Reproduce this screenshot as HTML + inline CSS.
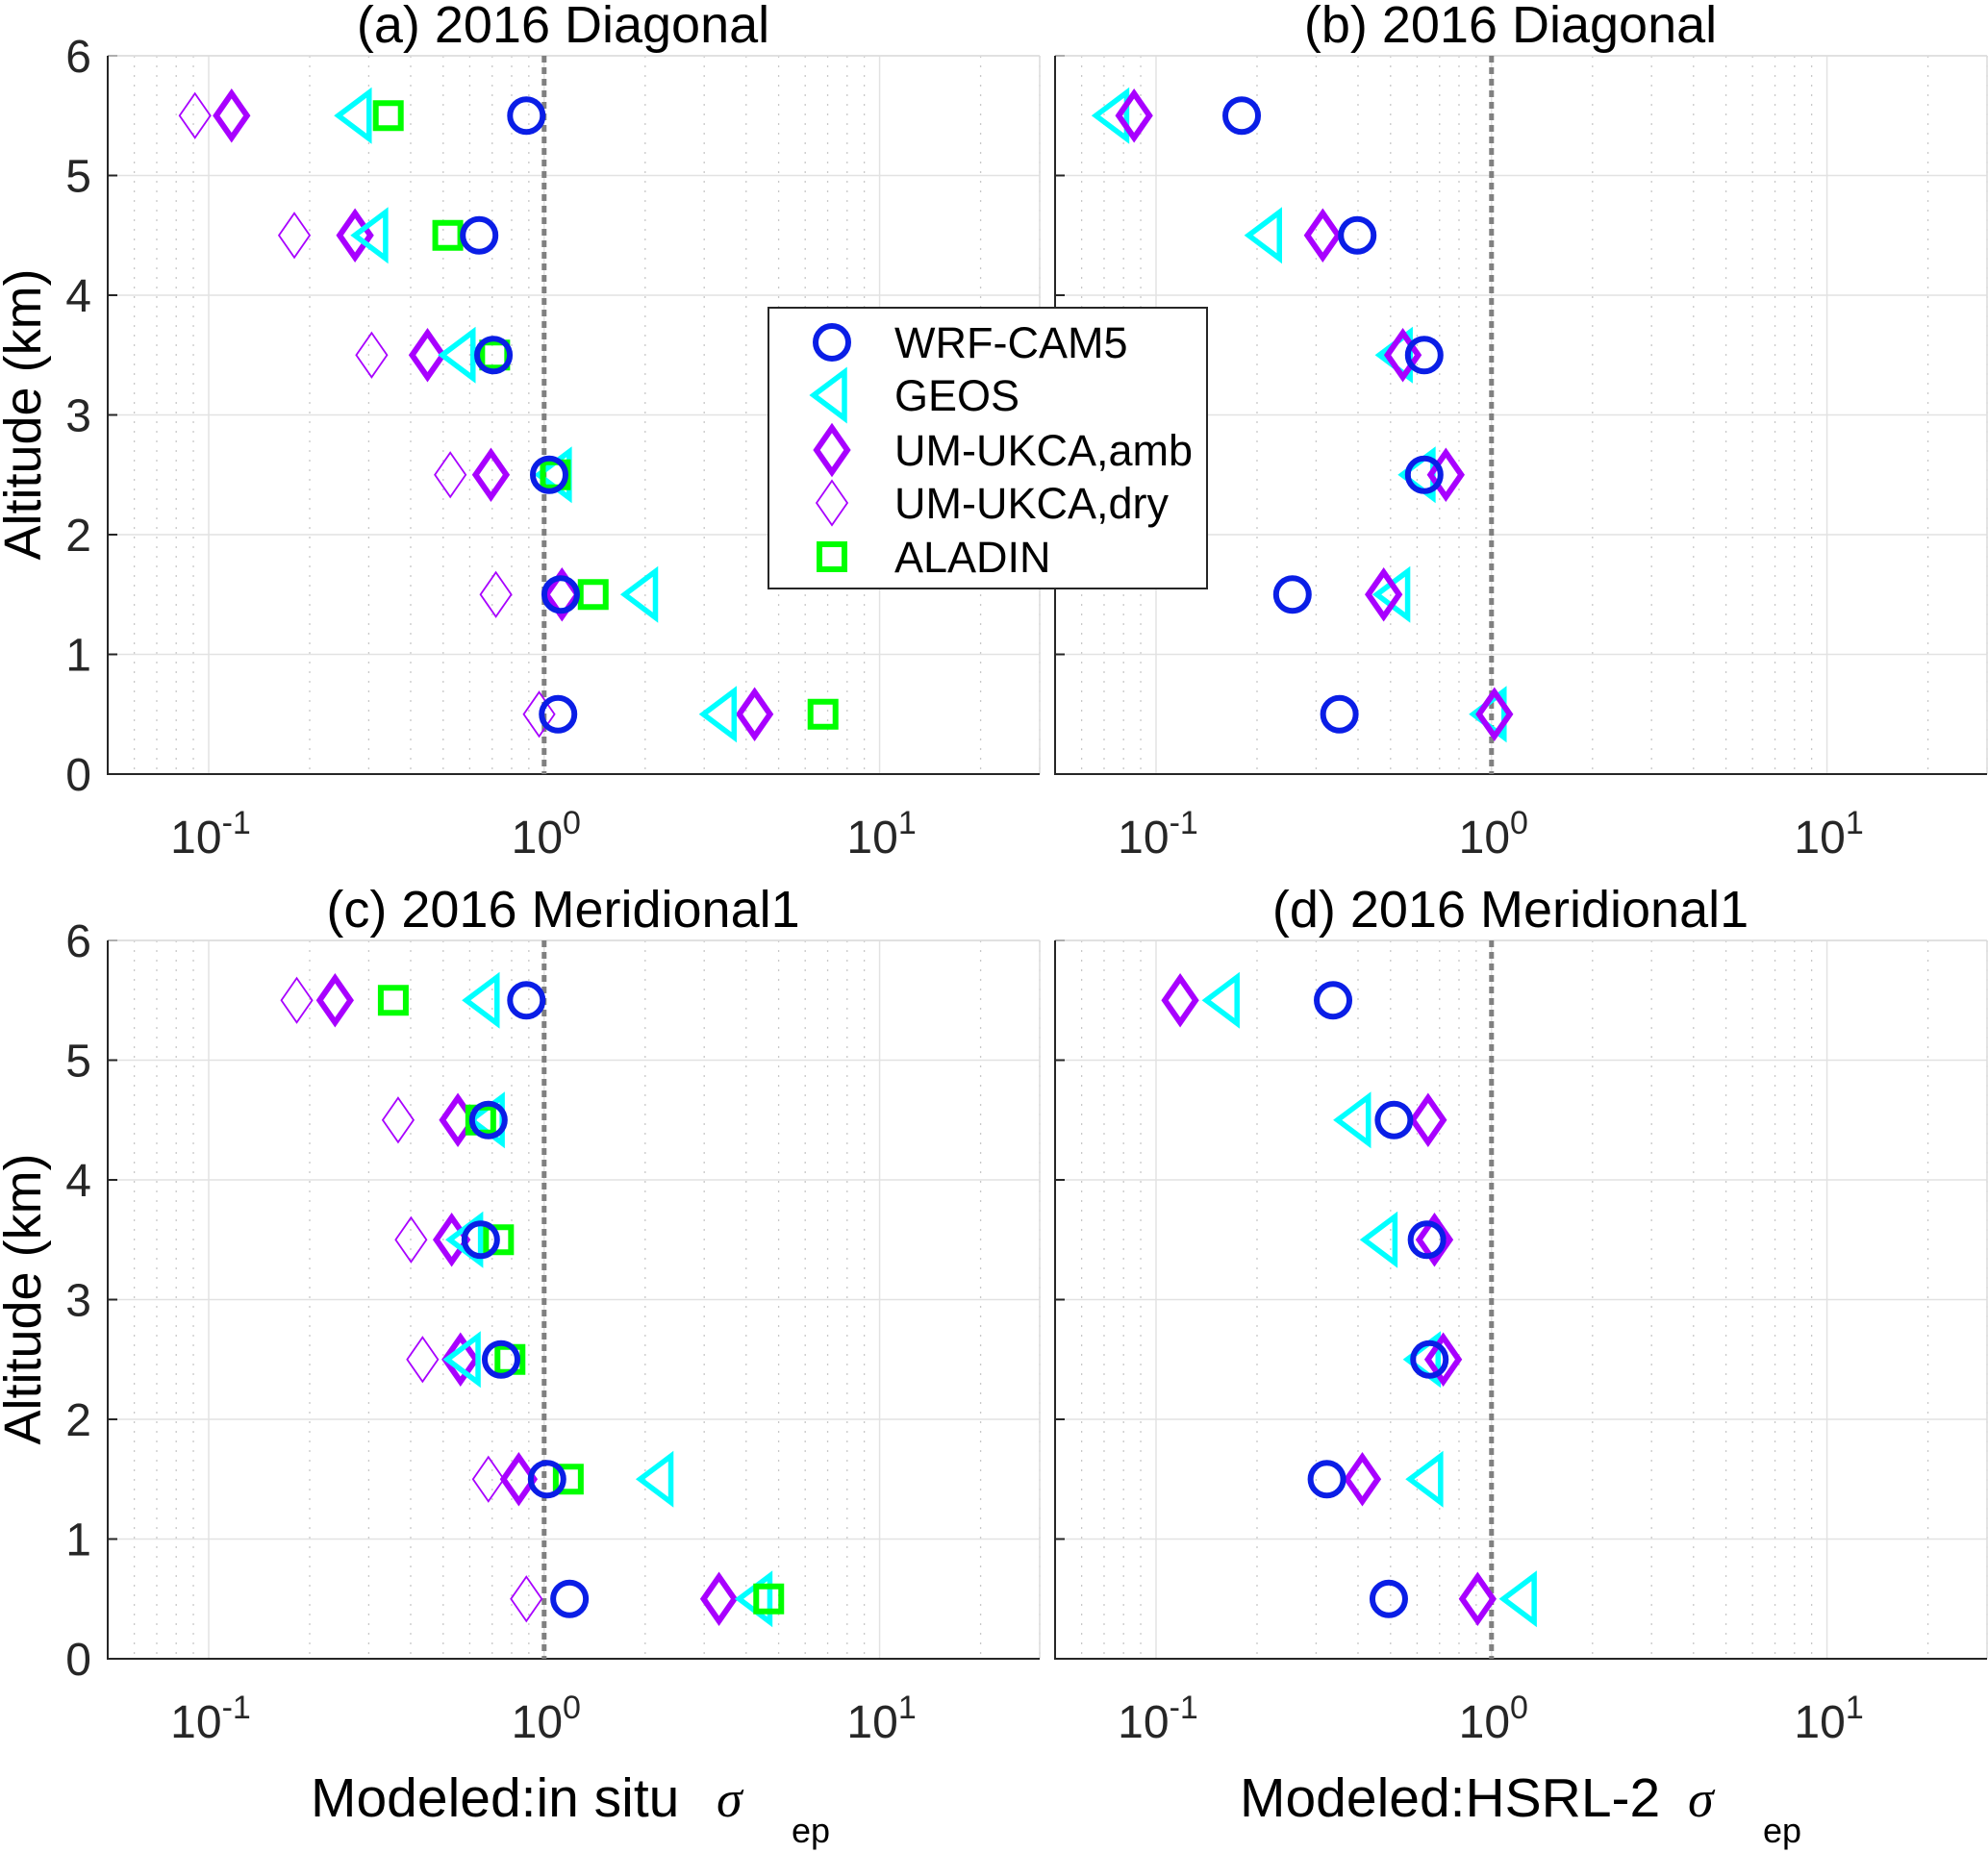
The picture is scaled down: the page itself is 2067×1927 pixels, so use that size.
<!DOCTYPE html>
<html><head><meta charset="utf-8"><style>
html,body{margin:0;padding:0;background:#fff}
svg{display:block;font-family:"Liberation Sans",sans-serif}
</style></head><body>
<svg id="fig" width="2067" height="1927" viewBox="0 0 2067 1927" xmlns="http://www.w3.org/2000/svg"></svg>
<script>
const altitudes=[5.5,4.5,3.5,2.5,1.5,0.5];
const yTicks=[0,1,2,3,4,5,6];
const xTickLabels=["-1","0","1"];
// panel a
const aWrf=[0.885,0.64,0.706,1.035,1.12,1.10];
const aGeos=[0.276,0.309,0.563,1.09,1.97,3.38];
const aAmb=[0.117,0.273,0.449,0.694,1.13,4.24];
const aDry=[0.091,0.18,0.306,0.525,0.718,0.966];
const aAladin=[0.343,0.516,0.712,1.08,1.40,6.78];
// panel b
const bWrf=[0.18,0.398,0.63,0.63,0.255,0.352];
const bGeos=[0.075,0.214,0.525,0.614,0.516,1.0];
const bAmb=[0.086,0.314,0.544,0.731,0.477,1.02];
// panel c
const cWrf=[0.885,0.682,0.647,0.744,1.02,1.19];
const cGeos=[0.664,0.688,0.593,0.583,2.19,4.32];
const cAmb=[0.238,0.553,0.53,0.563,0.84,3.32];
const cDry=[0.183,0.367,0.401,0.434,0.682,0.885];
const cAladin=[0.355,0.647,0.731,0.791,1.18,4.67];
// panel d
const dWrf=[0.337,0.512,0.642,0.653,0.323,0.494];
const dGeos=[0.16,0.394,0.473,0.636,0.647,1.23];
const dAmb=[0.118,0.647,0.676,0.718,0.412,0.909];

const NS="http://www.w3.org/2000/svg";
const svg=document.getElementById('fig');
function mk(tag,attrs,parent){const e=document.createElementNS(NS,tag);for(const k in attrs)e.setAttribute(k,attrs[k]);(parent||svg).appendChild(e);return e;}
const XMIN=Math.log10(0.05),XMAX=Math.log10(30);

function marker(g,type,cx,cy){
  let e;
  if(type==='wrf'){e=mk('circle',{cx:cx,cy:cy,r:17,fill:'none',stroke:'#0a1ee6','stroke-width':6},g);}
  else if(type==='geos'){e=mk('polygon',{points:`${cx-19},${cy} ${cx+13},${cy-24} ${cx+13},${cy+24}`,fill:'none',stroke:'#00ffff','stroke-width':5.5},g);}
  else if(type==='amb'){e=mk('polygon',{points:`${cx},${cy-23} ${cx+16},${cy} ${cx},${cy+23} ${cx-16},${cy}`,fill:'none',stroke:'#a800ff','stroke-width':6},g);}
  else if(type==='dry'){e=mk('polygon',{points:`${cx},${cy-23} ${cx+16},${cy} ${cx},${cy+23} ${cx-16},${cy}`,fill:'none',stroke:'#a800ff','stroke-width':1.8},g);}
  else {e=mk('rect',{x:cx-13,y:cy-13,width:26,height:26,fill:'none',stroke:'#00ff00','stroke-width':6},g);}
  return e;
}

function panel(id,L,R,T,B,title,series){
  const g=mk('g',{});
  
  
  const xs=v=>L+(Math.log10(v)-XMIN)/(XMAX-XMIN)*(R-L);
  const ys=v=>B-v/6*(B-T);
  for(let d=-2;d<=1;d++)for(let m=2;m<=9;m++){const v=m*Math.pow(10,d);if(v<0.05||v>30)continue;
    const l=mk('line',{x1:xs(v),x2:xs(v),y1:T,y2:B,stroke:'#c8c8c8','stroke-width':1.3,'stroke-dasharray':'2,8'},g);
    }
  for(const t of xTickLabels){const v=Math.pow(10,+t);
    const l=mk('line',{x1:xs(v),x2:xs(v),y1:T,y2:B,stroke:'#e2e2e2','stroke-width':1.5},g);
    
    const tx=mk('text',{x:xs(v)+2,y:B+82,'font-size':48,'text-anchor':'middle',fill:'#262626'},g);
    
    tx.appendChild(document.createTextNode('10'));
    const sp=mk('tspan',{dy:-20,'font-size':34},tx);sp.textContent=t;}
  for(const t of yTicks){
    const l=mk('line',{x1:L,x2:R,y1:ys(t),y2:ys(t),stroke:'#e2e2e2','stroke-width':1.5},g);
    
    mk('line',{x1:L,x2:L+10,y1:ys(t),y2:ys(t),stroke:'#262626','stroke-width':2},g);
    if(id==='a'||id==='c'){const tx=mk('text',{x:L-17,y:ys(t)+17,'font-size':48,'text-anchor':'end',fill:'#262626'},g);
      tx.textContent=t;}
  }
  mk('line',{x1:L,x2:R,y1:T,y2:T,stroke:'#dcdcdc','stroke-width':1.5},g);
  mk('line',{x1:R,x2:R,y1:T,y2:B,stroke:'#dcdcdc','stroke-width':1.5},g);
  const ax=mk('path',{d:`M${L},${T} V${B} H${R}`,fill:'none',stroke:'#262626','stroke-width':2},g);
  
  const ref=mk('line',{x1:xs(1),x2:xs(1),y1:T,y2:B,stroke:'#808080','stroke-width':5,'stroke-dasharray':'7,5'},g);
  
  const tt=mk('text',{x:(L+R)/2-11,y:T-14,'font-size':54,'text-anchor':'middle',fill:'#000'},g);
  tt.textContent=title;
  for(const [type,vals] of series){
    altitudes.forEach((a,i)=>{const m=marker(g,type,xs(vals[i]),ys(a));
      
      });
  }
}
panel('a',112,1081,58,805,'(a) 2016 Diagonal',[['dry',aDry],['amb',aAmb],['geos',aGeos],['aladin',aAladin],['wrf',aWrf]]);
panel('b',1097,2066,58,805,'(b) 2016 Diagonal',[['geos',bGeos],['amb',bAmb],['wrf',bWrf]]);
panel('c',112,1081,978,1725,'(c) 2016 Meridional1',[['dry',cDry],['amb',cAmb],['geos',cGeos],['aladin',cAladin],['wrf',cWrf]]);
panel('d',1097,2066,978,1725,'(d) 2016 Meridional1',[['geos',dGeos],['amb',dAmb],['wrf',dWrf]]);

[[431,'y-axis-title-top'],[1351,'y-axis-title-bottom']].forEach(([cy,n])=>{
  const t=mk('text',{x:0,y:0,'font-size':54,'text-anchor':'middle',fill:'#000',transform:`translate(42,${cy}) rotate(-90)`});
  t.textContent='Altitude (km)';});
function xlab(x,txt,sx,n){const t=mk('text',{x:x,y:1889,'font-size':57,fill:'#000'});
  t.textContent=txt;
  const s=mk('text',{x:sx,y:1889,'font-size':54,'font-style':'italic','font-family':'Liberation Serif,serif',fill:'#000'});s.textContent='σ';
  const e=mk('text',{x:sx+78,y:1916,'font-size':36,fill:'#000'});e.textContent='ep';}
xlab(323,'Modeled:in situ',745,'x-axis-title-left');
xlab(1289,'Modeled:HSRL-2',1755,'x-axis-title-right');

const lg=mk('g',{});


mk('rect',{x:799,y:320,width:456,height:292,fill:'#fff',stroke:'#262626','stroke-width':2},lg);
const legTypes=['wrf','geos','amb','dry','aladin'];
const legNames=['WRF-CAM5','GEOS','UM-UKCA,amb','UM-UKCA,dry','ALADIN'];
const legY=[356,411,468,523,579];
legTypes.forEach((t,i)=>{const m=marker(lg,t,865,legY[i]);
  
  const tx=mk('text',{x:930,y:legY[i]+16,'font-size':45,fill:'#000'},lg);
  tx.textContent=legNames[i];});
</script>
</body></html>
